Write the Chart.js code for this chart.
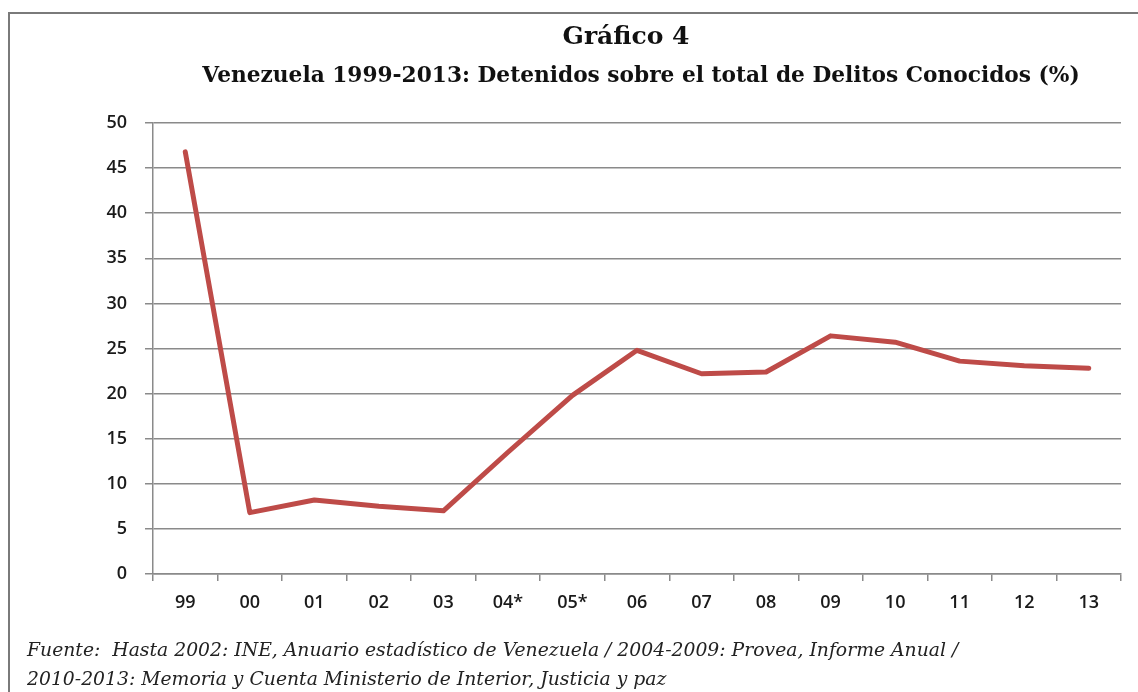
<!DOCTYPE html>
<html>
<head>
<meta charset="utf-8">
<script src="https://cdn.jsdelivr.net/npm/chart.js@4"></script>
<style>
  body { margin: 0; background: #fff; overflow: hidden; }
  #wrap { position: relative; width: 1138px; height: 692px; }
  #frame { position: absolute; left: 8px; top: 12px; width: 1200px; height: 720px;
           border-left: 2px solid #7a7a7a; border-top: 2px solid #7a7a7a; }
  canvas { position: absolute; left: 0; top: 0; }
  .t { position: absolute; white-space: nowrap; color: #111; }
  #title { left: 626px; top: 21px; transform: translateX(-50%); font: bold 25px "DejaVu Serif"; }
  #subtitle { left: 641px; top: 62px; transform: translateX(-50%); font: bold 21.7px "DejaVu Serif"; }
  .foot { left: 27px; font: italic 18.8px "DejaVu Serif"; color: #222; }
  #foot1 { top: 639px; }
  #foot2 { top: 668px; }
</style>
</head>
<body>
<div id="wrap">
  <div id="frame"></div>
  <canvas id="chart" width="1138" height="692"></canvas>
  <div class="t" id="title">Gráfico 4</div>
  <div class="t" id="subtitle">Venezuela 1999-2013: Detenidos sobre el total de Delitos Conocidos (%)</div>
  <div class="t foot" id="foot1">Fuente:&nbsp; Hasta 2002: INE, Anuario estadístico de Venezuela / 2004-2009: Provea, Informe Anual /</div>
  <div class="t foot" id="foot2">2010-2013: Memoria y Cuenta Ministerio de Interior, Justicia y paz</div>
</div>
<script>
// Data
const years = ["99", "00", "01", "02", "03", "04*", "05*", "06", "07", "08", "09", "10", "11", "12", "13"];
const detenidos = [46.8, 6.8, 8.2, 7.5, 7.0, 13.5, 19.8, 24.8, 22.2, 22.4, 26.4, 25.7, 23.6, 23.1, 22.8];
const yTicks = [0, 5, 10, 15, 20, 25, 30, 35, 40, 45, 50];

const gridColor = '#8a8a8a';
const tickFont = { family: 'Open Sans', size: 18, weight: '600' };

const ctx = document.getElementById('chart').getContext('2d');
new Chart(ctx, {
    type: 'line',
    data: {
        labels: years,
        datasets: [{
            label: 'Detenidos / Delitos conocidos (%)',
            data: detenidos,
            borderColor: '#be4b48',
            borderWidth: 5,
            borderJoinStyle: 'round',
            borderCapStyle: 'round',
            pointRadius: 0,
            tension: 0,
            fill: false
        }]
    },
    options: {
        responsive: false,
        animation: false,
        layout: { padding: { left: 10, right: 17, top: 123, bottom: 0 } },
        plugins: {
            legend: { display: false },
            tooltip: { enabled: false }
        },
        scales: {
            x: {
                offset: true,
                grid: { offset: true, drawOnChartArea: false, drawTicks: true, tickLength: 7, color: gridColor, lineWidth: 1.5 },
                border: { color: gridColor, width: 1.5 },
                ticks: { font: tickFont, color: '#1a1a1a', padding: 11, maxRotation: 0, autoSkip: false },
                afterFit: scale => { scale.height = 118; }
            },
            y: {
                min: 0,
                max: 50,
                afterBuildTicks: scale => { scale.ticks = yTicks.map(v => ({ value: v })); },
                grid: { color: gridColor, lineWidth: 1.5, tickLength: 8 },
                border: { color: gridColor, width: 1.5 },
                ticks: { font: tickFont, color: '#1a1a1a', padding: 18 },
                afterFit: scale => { scale.width = 143; }
            }
        }
    }
});
</script>
</body>
</html>
